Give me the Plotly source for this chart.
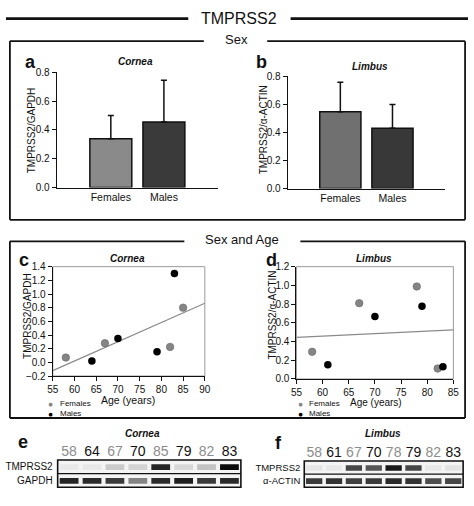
import numpy as np
import plotly.graph_objects as go

W, H = 474, 506
FONT = "Liberation Sans, Arial, sans-serif"

# ---------------- data ----------------
sex_groups = ["Females", "Males"]
cornea_mean = [0.34, 0.455]
cornea_sd = [0.16, 0.29]
limbus_mean = [0.547, 0.429]
limbus_sd = [0.21, 0.17]

cornea_f_age = [58, 67, 82, 85]
cornea_f_val = [0.07, 0.28, 0.226, 0.80]
cornea_m_age = [64, 70, 79, 83]
cornea_m_val = [0.02, 0.35, 0.155, 1.30]

limbus_f_age = [58, 67, 78, 82]
limbus_f_val = [0.29, 0.81, 0.988, 0.111]
limbus_m_age = [61, 70, 79, 83]
limbus_m_val = [0.153, 0.668, 0.776, 0.129]

cornea_lane_age = [58, 64, 67, 70, 85, 79, 82, 83]
cornea_lane_sex = ["F", "M", "F", "M", "F", "M", "F", "M"]
cornea_tmprss2_band = [0.05, 0.06, 0.28, 0.22, 0.9, 0.18, 0.32, 1.0]
cornea_gapdh_band = [0.9, 0.88, 0.82, 0.55, 0.88, 0.92, 0.82, 0.88]

limbus_lane_age = [58, 61, 67, 70, 78, 79, 82, 83]
limbus_lane_sex = ["F", "M", "F", "M", "F", "M", "F", "M"]
limbus_tmprss2_band = [0.08, 0.06, 0.78, 0.72, 0.95, 0.78, 0.06, 0.1]
limbus_actin_band = [0.82, 0.85, 0.8, 0.82, 0.88, 0.85, 0.75, 0.78]


def X(px):
    return px / W


def Y(py):
    return 1 - py / H


fig = go.Figure()

# ---------- bar panels ----------
bar_cols = ["#8a8a8a", "#3a3a3a"]
bar_cols_b = ["#707070", "#383838"]
for i, (m, sd, cols) in enumerate([(cornea_mean, cornea_sd, bar_cols), (limbus_mean, limbus_sd, bar_cols_b)]):
    sfx = "" if i == 0 else "2"
    fig.add_trace(go.Bar(
        x=sex_groups, y=m, width=0.79,
        marker=dict(color=cols, line=dict(color="#111", width=1.5)),
        error_y=dict(type="data", symmetric=False, array=sd, arrayminus=[0, 0],
                     color="#111", thickness=1.5, width=3),
        xaxis="x" + sfx, yaxis="y" + sfx, showlegend=False))

# ---------- scatter panels ----------
FCOL, MCOL = "#858585", "#000000"
for sfx, fa, fv, ma, mv, xr in [
        ("3", cornea_f_age, cornea_f_val, cornea_m_age, cornea_m_val, [55, 90]),
        ("4", limbus_f_age, limbus_f_val, limbus_m_age, limbus_m_val, [55, 85])]:
    ages = np.array(fa + ma, dtype=float)
    vals = np.array(fv + mv, dtype=float)
    k, b = np.polyfit(ages, vals, 1)
    xs = np.array(xr, dtype=float)
    fig.add_trace(go.Scatter(x=xs, y=k * xs + b, mode="lines",
                             line=dict(color="#8a8a8a", width=1.2),
                             xaxis="x" + sfx, yaxis="y" + sfx, showlegend=False))
    fig.add_trace(go.Scatter(x=fa, y=fv, mode="markers",
                             marker=dict(color=FCOL, size=7.5, line=dict(color="#666", width=0.6)),
                             xaxis="x" + sfx, yaxis="y" + sfx, showlegend=False))
    fig.add_trace(go.Scatter(x=ma, y=mv, mode="markers",
                             marker=dict(color=MCOL, size=7.5),
                             xaxis="x" + sfx, yaxis="y" + sfx, showlegend=False))

# ---------- blots ----------
band_scale = [[0, "#f0f0f0"], [0.3, "#c8c8c8"], [1, "#0a0a0a"]]
for sfx, top, bot in [("5", cornea_tmprss2_band, cornea_gapdh_band),
                      ("6", limbus_tmprss2_band, limbus_actin_band)]:
    lanes = list(range(len(top)))
    for row_c, inten in [(1.5, top), (0.5, bot)]:
        fig.add_trace(go.Bar(
            x=lanes, y=[0.42] * len(lanes), base=row_c - 0.24, width=0.82,
            marker=dict(color=inten, colorscale=band_scale, cmin=0, cmax=1,
                        line=dict(width=0)),
            xaxis="x" + sfx, yaxis="y" + sfx, showlegend=False))


def lane_text(ages, sexes):
    out = []
    for a, s in zip(ages, sexes):
        c = "#8c8c8c" if s == "F" else "#111111"
        out.append(f'<span style="color:{c}">{a}</span>')
    return out


tick_font = dict(family=FONT, size=10, color="#111")
axbase = dict(showline=True, linecolor="#111", linewidth=1.3, showgrid=False, zeroline=False,
              tickfont=tick_font, ticks="outside", ticklen=4, tickcolor="#111", tickwidth=1)

layout = dict(
    width=W, height=H, margin=dict(l=0, r=0, t=0, b=0),
    paper_bgcolor="white", plot_bgcolor="rgba(0,0,0,0)",
    barmode="overlay", showlegend=False, font=dict(family=FONT, color="#111"),
    xaxis=dict(axbase, domain=[X(52), X(217)], anchor="y", range=[-1.02, 2.01], ticks="",
               tickfont=dict(family=FONT, size=10.5, color="#111")),
    yaxis=dict(axbase, domain=[Y(186), Y(68)], anchor="x", range=[0, 0.8], dtick=0.2, tickformat=".1f"),
    xaxis2=dict(axbase, domain=[X(289), X(450)], anchor="y2", range=[-1.01, 2.0], ticks="",
                tickfont=dict(family=FONT, size=10.5, color="#111")),
    yaxis2=dict(axbase, domain=[Y(187), Y(72)], anchor="x2", range=[0, 0.8], dtick=0.2, tickformat=".1f"),
    xaxis3=dict(axbase, domain=[X(48), X(204)], anchor="y3", range=[55, 90], dtick=5),
    yaxis3=dict(axbase, domain=[Y(379), Y(267)], anchor="x3", range=[-0.2, 1.4], dtick=0.2, tickformat=".1f"),
    xaxis4=dict(axbase, domain=[X(298), X(459)], anchor="y4", range=[55, 85], dtick=5),
    yaxis4=dict(axbase, domain=[Y(382), Y(267)], anchor="x4", range=[0, 1.2], dtick=0.2, tickformat=".1f"),
    xaxis5=dict(domain=[X(53), X(241)], anchor="y5", range=[-0.5, 7.5], side="top",
                tickvals=list(range(8)), ticktext=lane_text(cornea_lane_age, cornea_lane_sex),
                tickfont=dict(family=FONT, size=14), showgrid=False, zeroline=False, showline=False, ticks=""),
    yaxis5=dict(domain=[Y(493), Y(465)], anchor="x5", range=[0, 2], tickvals=[1.5, 0.5],
                ticktext=["TMPRSS2", "GAPDH"], tickfont=dict(family=FONT, size=10, color="#111"),
                ticklabelstandoff=4,
                showgrid=False, zeroline=False, showline=False, ticks=""),
    xaxis6=dict(domain=[X(306), X(469)], anchor="y6", range=[-0.5, 7.5], side="top",
                tickvals=list(range(8)), ticktext=lane_text(limbus_lane_age, limbus_lane_sex),
                tickfont=dict(family=FONT, size=14), showgrid=False, zeroline=False, showline=False, ticks=""),
    yaxis6=dict(domain=[Y(493), Y(466)], anchor="x6", range=[0, 2], tickvals=[1.5, 0.5],
                ticktext=["TMPRSS2", "α-ACTIN"], tickfont=dict(family=FONT, size=9.5, color="#111"),
                ticklabelstandoff=3,
                showgrid=False, zeroline=False, showline=False, ticks=""),
)

shapes = []


def pline(x0, y0, x1, y1, w=1.8, col="#111"):
    shapes.append(dict(type="line", xref="paper", yref="paper", x0=X(x0), y0=Y(y0), x1=X(x1), y1=Y(y1),
                       line=dict(color=col, width=w)))


# header lines
pline(0, 13, 187, 13, w=2.8)
pline(292, 13, 474, 13, w=2.8)
# box 1
pline(4, 36, 203, 36)
pline(268, 36, 471, 36)
pline(4, 36, 4, 219)
pline(471, 36, 471, 219)
pline(4, 219, 471, 219)
# box 2
pline(4, 241, 183, 241)
pline(302, 241, 471, 241)
pline(4, 241, 4, 422)
pline(471, 241, 471, 422)
pline(4, 422, 471, 422)

# scatter frames
for sfx in ["3", "4"]:
    shapes.append(dict(type="rect", xref=f"x{sfx} domain", yref=f"y{sfx} domain", x0=0, y0=0, x1=1, y1=1,
                       line=dict(color="#9a9a9a", width=1), layer="below"))
# blot frames
for sfx in ["5", "6"]:
    shapes.append(dict(type="rect", xref=f"x{sfx} domain", yref=f"y{sfx} domain", x0=0, y0=0, x1=1, y1=1,
                       fillcolor="#f4f4f4", line=dict(width=0), layer="below"))
    shapes.append(dict(type="rect", xref=f"x{sfx} domain", yref=f"y{sfx} domain", x0=0, y0=0, x1=1, y1=1,
                       line=dict(color="#111", width=1.6), layer="above"))
    shapes.append(dict(type="line", xref=f"x{sfx} domain", yref=f"y{sfx} domain", x0=0, y0=0.5, x1=1, y1=0.5,
                       line=dict(color="#111", width=1.4), layer="above"))
layout["shapes"] = shapes

ann = []


def text(x, y, s, size=10, bold=False, italic=False, angle=0, xanchor="center", color="#111", align="center"):
    t = s
    if bold:
        t = f"<b>{t}</b>"
    if italic:
        t = f"<i>{t}</i>"
    ann.append(dict(x=X(x), y=Y(y), xref="paper", yref="paper", text=t, showarrow=False,
                    font=dict(family=FONT, size=size, color=color), textangle=angle,
                    xanchor=xanchor, yanchor="middle", borderpad=0, align=align))


text(239, 13, "TMPRSS2", size=16)
text(236, 34, "Sex", size=13)
text(242, 239, "Sex and Age", size=13)

for lx, ly, l in [(25, 57, "a"), (262, 57, "b"), (18, 260, "c"), (272, 260, "d"), (17, 447, "e"), (280, 448, "f")]:
    text(lx, ly, l, size=18, bold=True)

for sx, sy, s in [(133, 57, "Cornea"), (373, 62, "Limbus"), (125, 259, "Cornea"), (378, 259, "Limbus"),
                  (140, 438, "Cornea"), (387, 438, "Limbus")]:
    text(sx, sy, s, size=10, bold=True, italic=True)

text(27, 127, "TMPRSS2/GAPDH", size=10, angle=-90)
text(265, 127, "TMPRSS2/α-ACTIN", size=10, angle=-90)
text(22, 317, "TMPRSS2/GAPDH", size=10, angle=-90)
text(273, 317, "TMPRSS2/α-ACTIN", size=10, angle=-90)
text(125, 404, "Age (years)", size=10.5)
text(380, 406, "Age (years)", size=10)

for mx in [46, 302]:
    text(mx, 407.5, "●", size=8.5, color=FCOL)
    text(mx, 417.5, "●", size=8.5, color=MCOL)
    text(mx + 8, 412.5, "Females<br>Males", size=8, xanchor="left", align="left")

layout["annotations"] = ann
fig.update_layout(**layout)
fig.write_html("out.html", config={"displayModeBar": False},
               post_script="document.body.style.margin='0';document.body.style.overflow='hidden';")
